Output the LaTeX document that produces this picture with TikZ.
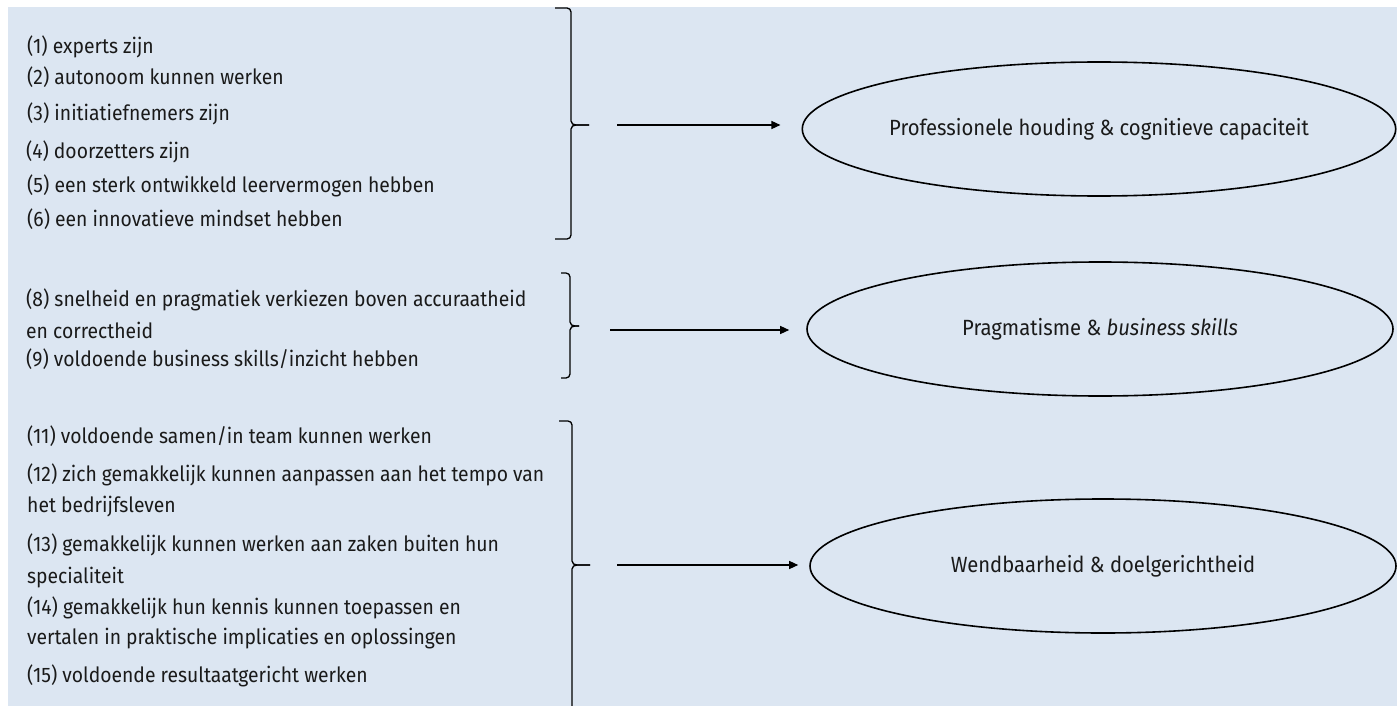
\documentclass[tikz,border=0pt]{standalone}
\usepackage{fontspec}
\setmainfont{Fira Sans}[FakeStretch=0.92]
\usetikzlibrary{arrows.meta,shapes.geometric}
\definecolor{bgblue}{HTML}{DCE6F2}
\definecolor{ink}{HTML}{1A1A1A}
\tikzset{
  item/.style={anchor=base west, inner sep=0pt, font=\fontsize{21}{24}\selectfont, text=ink},
  outcome/.style={ellipse, draw=black, line width=1.6pt, minimum width=586pt, minimum height=134pt,
    inner sep=0pt, font=\fontsize{22}{25}\selectfont, text=ink},
  bracepath/.style={draw=black, line width=1.3pt},
  arr/.style={-{Triangle[length=9pt,width=8pt]}, line width=1.3pt}
}
\newcommand\mybrace[6]{%
  \draw[bracepath] ({#1-#5},#2) -- ({#1-4},#2) to[out=0,in=90] (#1,{#2+4}) -- (#1,{#3-4})
     to[out=-90,in=180] ({#1+5},#3) -- ({#1+#6},#3);
  \draw[bracepath] ({#1+#6},#3) -- ({#1+5},#3) to[out=180,in=90] (#1,{#3+4}) -- (#1,{#4-4})
     to[out=-90,in=0] ({#1-4},#4) -- ({#1-#5},#4);
}
\begin{document}
\begin{tikzpicture}[x=1pt,y=-1pt]
\useasboundingbox (0,0) rectangle (1397,706);
\fill[bgblue] (8,7) rectangle (1397,706);

% group 1
\node[item] (t1) at (27,54)  {(1) experts zijn};
\node[item] (t2) at (27,85)  {(2) autonoom kunnen werken};
\node[item] (t3) at (27,121) {(3) initiatiefnemers zijn};
\node[item] (t4) at (26,158) {(4) doorzetters zijn};
\node[item] (t5) at (27,192) {(5) een sterk ontwikkeld leervermogen hebben};
\node[item] (t6) at (27,226) {(6) een innovatieve mindset hebben};

% group 2
\node[item] (t8)  at (26,306) {(8) snelheid en pragmatiek verkiezen boven accuraatheid};
\node[item] (t8b) at (26,338) {en correctheid};
\node[item] (t9)  at (26,366) {(9) voldoende business skills/inzicht hebben};

% group 3
\node[item] (t11)  at (27,443) {(11) voldoende samen/in team kunnen werken};
\node[item] (t12)  at (27,481) {(12) zich gemakkelijk kunnen aanpassen aan het tempo van};
\node[item] (t12b) at (27,512) {het bedrijfsleven};
\node[item] (t13)  at (27,551) {(13) gemakkelijk kunnen werken aan zaken buiten hun};
\node[item] (t13b) at (27,583) {specialiteit};
\node[item] (t14)  at (27,614) {(14) gemakkelijk hun kennis kunnen toepassen en};
\node[item] (t14b) at (27,644) {vertalen in praktische implicaties en oplossingen};
\node[item] (t15)  at (27,682) {(15) voldoende resultaatgericht werken};

% outcomes
\node[outcome] (e1) at (1099,129) {Professionele houding \& cognitieve capaciteit};
\node[outcome] (e2) at (1100,329) {Pragmatisme \& \textit{business skills}};
\node[outcome] (e3) at (1103,566) {Wendbaarheid \& doelgerichtheid};

% braces
\mybrace{571}{8}{125}{239}{16}{18}
\mybrace{570}{273}{326}{378}{9}{9}
\mybrace{572}{421}{565}{722}{13}{18}

% arrows
\coordinate (s1) at (617,125);
\coordinate (s2) at (610,330);
\coordinate (s3) at (617,565);
\draw[arr, shorten >=21pt] (s1) -- (s1 -| e1.west);
\draw[arr, shorten >=17pt] (s2) -- (s2 -| e2.west);
\draw[arr, shorten >=11pt] (s3) -- (s3 -| e3.west);
\end{tikzpicture}
\end{document}
